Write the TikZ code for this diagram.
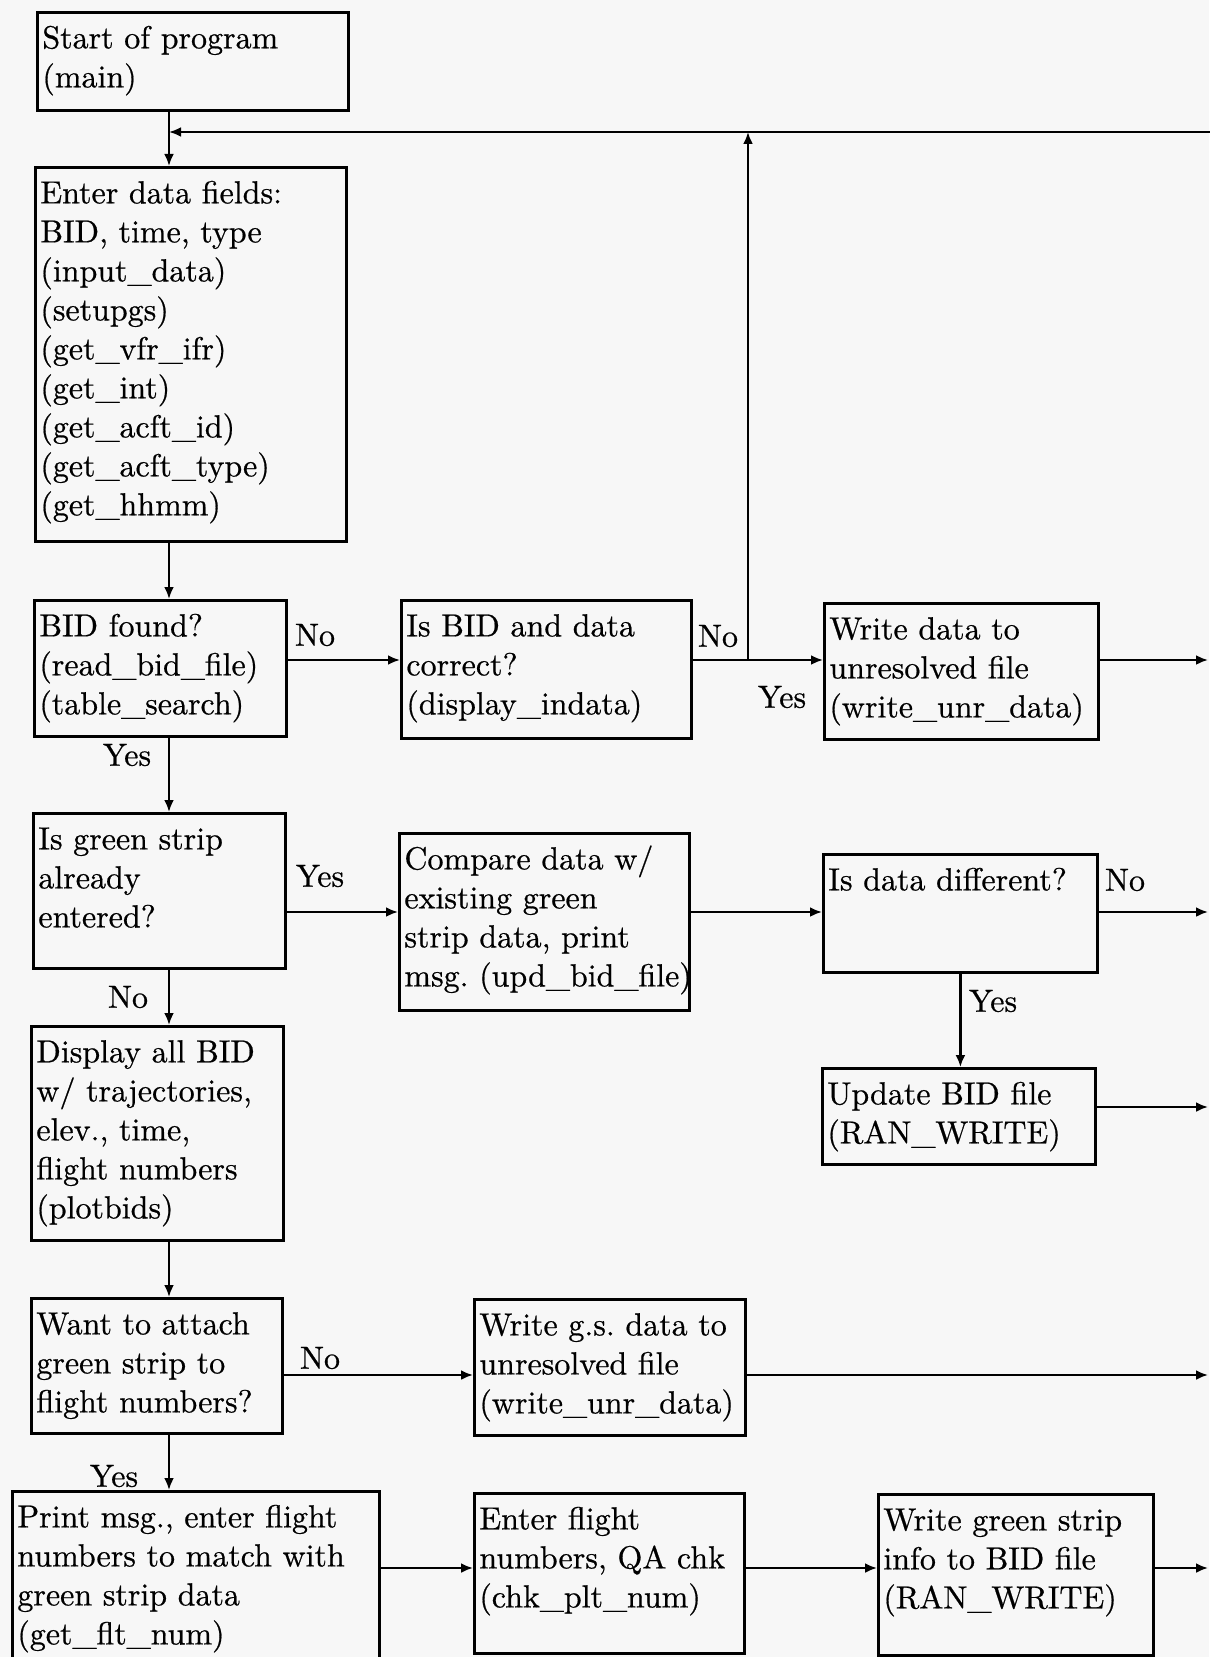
\documentclass[tikz,border=0pt]{standalone}
\usepackage{fontspec}
\setmainfont{lmroman10-regular.otf}[FakeBold=0.6]
\usepackage{tikz}
\usetikzlibrary{arrows.meta}
\definecolor{paper}{HTML}{F7F7F7}

\tikzset{
  box/.style 2 args={draw, line width=1.4pt, anchor=north west, align=left,
    inner xsep=2.5pt, inner ysep=3pt, text height=15pt,
    text width=#1, text depth=#2},
  flow/.style={line width=1.4pt, ->},
}

\begin{document}
\begin{tikzpicture}[x=0.5pt, y=-0.5pt, >={Latex[length=6pt,width=5pt]},
    font=\fontsize{16}{19.5}\selectfont\frenchspacing]
    % Page
    \fill[paper] (0,0) rectangle (1209,1657);
    \useasboundingbox (0,0) rectangle (1209,1657);

    % Lanes
    \coordinate (spine) at (169,132);
    \coordinate (rail) at (1208,132);
    \coordinate (tap) at (748,132);
    \coordinate (lanea) at (0,660);
    \coordinate (laneb) at (0,912);
    \coordinate (lanec) at (0,1107);
    \coordinate (laned) at (0,1375);
    \coordinate (lanee) at (0,1568);

    % Boxes
    \node[box={150.5pt}{28pt}] (start) at (36,11) {Start of program\\(main)};
    \node[box={150.5pt}{166pt}] (enter) at (34,166) {Enter data fields:\\BID, time, type\\(input\_data)\\(setupgs)\\(get\_vfr\_ifr)\\(get\_int)\\(get\_acft\_id)\\(get\_acft\_type)\\(get\_hhmm)};
    \node[box={121pt}{47pt}] (found) at (33,599) {BID found?\\(read\_bid\_file)\\(table\_search)};
    \node[box={140pt}{48pt}] (correct) at (400,599) {Is BID and data\\correct?\\(display\_indata)};
    \node[box={132pt}{47pt}] (unres) at (823,602) {Write data to\\unresolved file\\(write\_unr\_data)};
    \node[box={121pt}{56.5pt}] (entered) at (32,812) {Is green strip\\already\\entered?};
    \node[box={140pt}{67.5pt}] (compare) at (398,832) {Compare data w/\\existing green\\strip data, print\\msg.~(upd\_bid\_file)};
    \node[box={132pt}{38pt}] (differ) at (822,853) {Is data different?};
    \node[box={131.5pt}{27pt}] (update) at (821,1067) {Update BID file\\(RAN\_WRITE)};
    \node[box={121pt}{86pt}] (display) at (30,1025) {Display all BID\\w/ trajectories,\\elev., time,\\flight numbers\\(plotbids)};
    \node[box={120.5pt}{46.5pt}] (attach) at (30,1297) {Want to attach\\green strip to\\flight numbers?};
    \node[box={130.5pt}{47pt}] (gsunres) at (473,1298) {Write g.s. data to\\unresolved file\\(write\_unr\_data)};
    \node[box={178.5pt}{64pt}] (fltnum) at (11,1490) {Print msg., enter flight\\numbers to match with\\green strip data\\(get\_flt\_num)};
    \node[box={130pt}{59pt}] (qachk) at (473,1492) {Enter flight\\numbers, QA chk\\(chk\_plt\_num)};
    \node[box={132.5pt}{59.5pt}] (gswrite) at (877,1493) {Write green strip\\info to BID file\\(RAN\_WRITE)};

    % Branch labels
    \node (nofound) at (315,635) {No};
    \node (yesfound) at (127,755) {Yes};
    \node (nocorrect) at (718,636) {No};
    \node (yescorrect) at (782,697) {Yes};
    \node (yesentered) at (320,876) {Yes};
    \node (noentered) at (128,997) {No};
    \node (nodiffer) at (1125,880) {No};
    \node (yesdiffer) at (993,1001) {Yes};
    \node (noattach) at (320,1358) {No};
    \node (yesattach) at (114,1476) {Yes};

    % Main column
    \draw[flow] (start.south -| spine) -- (enter.north -| spine);
    \draw[flow] (enter.south -| spine) -- (found.north -| spine);
    \draw[flow] (found.south -| spine) -- (entered.north -| spine);
    \draw[flow] (entered.south -| spine) -- (display.north -| spine);
    \draw[flow] (display.south -| spine) -- (attach.north -| spine);
    \draw[flow] (attach.south -| spine) -- (fltnum.north -| spine);

    % Rows
    \draw[flow] (found.east |- lanea) -- (correct.west |- lanea);
    \draw[flow] (correct.east |- lanea) -- (unres.west |- lanea);
    \draw[flow] (tap |- lanea) -- (tap);
    \draw[flow] (unres.east |- lanea) -- (rail |- lanea);

    \draw[flow] (entered.east |- laneb) -- (compare.west |- laneb);
    \draw[flow] (compare.east |- laneb) -- (differ.west |- laneb);
    \draw[flow] (differ.east |- laneb) -- (rail |- laneb);
    \draw[flow] (differ.south) -- (differ.south |- update.north);
    \draw[flow] (update.east |- lanec) -- (rail |- lanec);

    \draw[flow] (attach.east |- laned) -- (gsunres.west |- laned);
    \draw[flow] (gsunres.east |- laned) -- (rail |- laned);

    \draw[flow] (fltnum.east |- lanee) -- (qachk.west |- lanee);
    \draw[flow] (qachk.east |- lanee) -- (gswrite.west |- lanee);
    \draw[flow] (gswrite.east |- lanee) -- (rail |- lanee);

    % Return to the top
    \draw[line width=1.4pt] ([xshift=1.5pt]rail |- lanee) -- ([xshift=1.5pt]rail);
    \draw[flow] ([xshift=1.5pt]rail) -- (spine);
\end{tikzpicture}
\end{document}
